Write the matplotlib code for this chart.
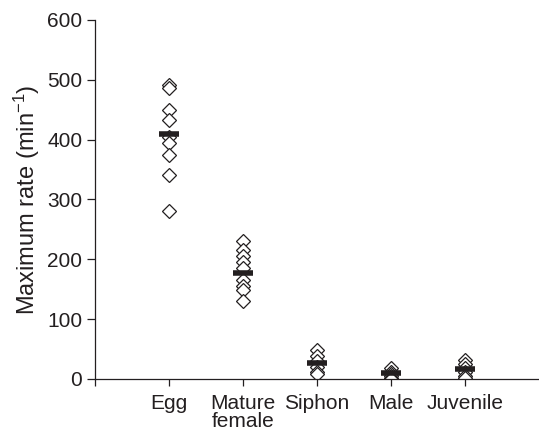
import matplotlib
matplotlib.use("Agg")
import matplotlib.pyplot as plt

# 数据
categories = ["Egg", "Mature\nfemale", "Siphon", "Male", "Juvenile"]
egg = [492, 487, 450, 433, 405, 395, 375, 340, 280]
mature_female = [230, 215, 205, 195, 185, 165, 155, 148, 130]
siphon = [48, 38, 30, 20, 12, 8]
male = [18, 12, 8, 5, 2, 0]
juvenile = [32, 25, 18, 12, 5, 2]
means = [410, 177, 27, 10, 17]
y_ticks = [0, 100, 200, 300, 400, 500, 600]

groups = [egg, mature_female, siphon, male, juvenile]

plt.rcParams['font.family'] = ['Liberation Sans', 'DejaVu Sans']
plt.rcParams['mathtext.fontset'] = 'custom'
plt.rcParams['mathtext.rm'] = 'Liberation Sans'
plt.rcParams['mathtext.it'] = 'Liberation Sans:italic'

ink = '#231f20'
fig = plt.figure(figsize=(5.39, 4.32), dpi=100)
ax = fig.add_axes([0.176, 0.1227, 0.824, 0.8313])

# 每组的散点（空心菱形）
for i, vals in enumerate(groups):
    ax.plot([i + 1] * len(vals), vals, linestyle='none', marker='D',
            markersize=7, markerfacecolor='white', markeredgecolor=ink,
            markeredgewidth=0.9, zorder=2)

# 平均值横线
ax.plot(range(1, 6), means, linestyle='none', marker='_', markersize=15,
        markeredgewidth=4, color=ink, zorder=3)

ax.set_xlim(0, 6)
ax.set_ylim(0, 600)
ax.set_xticks(range(0, 6))
ax.set_xticklabels([""] + categories, linespacing=0.9)
ax.set_yticks(y_ticks)
ax.set_ylabel("Maximum rate (min$^{-1}$)", fontsize=17, color=ink, labelpad=4)

for side in ['top', 'right']:
    ax.spines[side].set_visible(False)
for side in ['left', 'bottom']:
    ax.spines[side].set_color(ink)
    ax.spines[side].set_linewidth(0.9)

ax.tick_params(axis='both', direction='out', colors=ink, labelcolor=ink,
               labelsize=15, width=0.9)
ax.tick_params(axis='y', length=6, pad=3)
ax.tick_params(axis='x', length=5, pad=6)

fig.savefig("out.png", dpi=100)
